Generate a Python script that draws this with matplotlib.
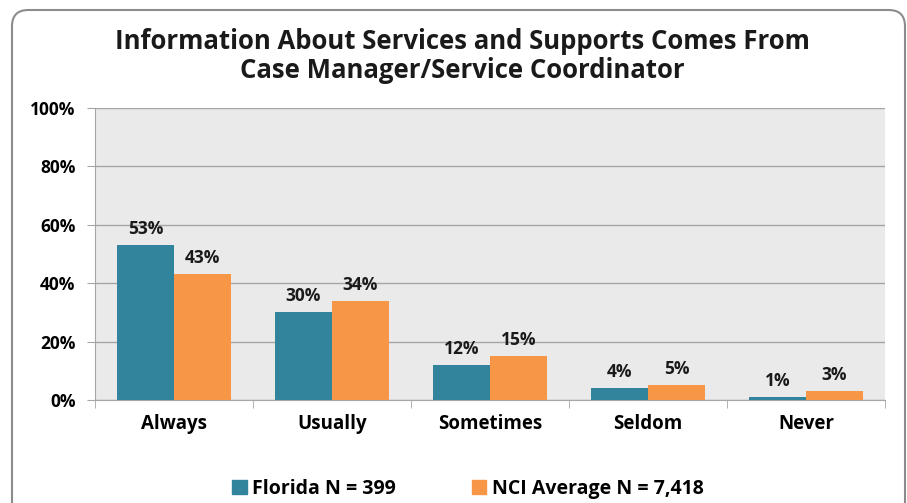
import matplotlib
matplotlib.use("Agg")
import matplotlib.pyplot as plt
from matplotlib.patches import FancyBboxPatch, Rectangle
import numpy as np

categories = ["Always", "Usually", "Sometimes", "Seldom", "Never"]
florida = [53, 30, 12, 4, 1]
nci = [43, 34, 15, 5, 3]
series_names = ["Florida N = 399", "NCI Average N = 7,418"]
yticks = [0, 20, 40, 60, 80, 100]
title = "Information About Services and Supports Comes From\nCase Manager/Service Coordinator"

plt.rcParams['font.family'] = ['Open Sans', 'DejaVu Sans']

W, H = 907, 503
fig = plt.figure(figsize=(W/100, H/100), dpi=100)

# outer rounded frame
frame = FancyBboxPatch((12/W, -20/H), 893/W, (H-10+20)/H,
                       boxstyle="round,pad=0,rounding_size=0.018",
                       transform=fig.transFigure, fill=False,
                       edgecolor="#8C8C8C", linewidth=1.5, mutation_aspect=W/H)
fig.patches.append(frame)

ax = fig.add_axes([95/W, 1-400/H, 790/W, 292/H])
ax.set_facecolor("#EAEAEA")
x = np.arange(len(categories))
w = 0.36
c1, c2 = "#31849B", "#F79646"
b1 = ax.bar(x - w/2, florida, w, color=c1, zorder=3)
b2 = ax.bar(x + w/2, nci, w, color=c2, zorder=3)

for bars, vals in ((b1, florida), (b2, nci)):
    for b, v in zip(bars, vals):
        ax.text(b.get_x() + b.get_width()/2, v + 2.4, f"{v}%", ha="center", va="bottom",
                fontsize=12.5, fontweight="bold", color="#1a1a1a")

ax.set_xlim(-0.5, len(categories) - 0.5)
ax.set_ylim(0, 100)
ax.set_yticks(yticks)
ax.set_yticklabels([f"{t}%" for t in yticks], fontsize=12.5, fontweight="bold")
ax.yaxis.grid(True, color="#A6A6A6", linewidth=1.0, zorder=0)
ax.set_axisbelow(True)
ax.set_xticks(x)
ax.set_xticklabels(categories, fontsize=13.5, fontweight="bold")
ax.set_xticks(np.arange(len(categories) + 1) - 0.5, minor=True)
ax.tick_params(axis="x", which="major", length=0, pad=10)
ax.tick_params(axis="x", which="minor", length=6, color="#A6A6A6")
ax.tick_params(axis="y", length=6, color="#A6A6A6", pad=8)
for s in ["top", "right"]:
    ax.spines[s].set_visible(False)
for s in ["left", "bottom"]:
    ax.spines[s].set_color("#A6A6A6")

fig.text(462/W, 1-56/H, title, ha="center", va="center", fontsize=18.5,
         fontweight="bold", color="#1a1a1a", linespacing=1.12)

leg = fig.legend([Rectangle((0, 0), 1, 1, color=c1), Rectangle((0, 0), 1, 1, color=c2)],
                 series_names, loc="center", bbox_to_anchor=(468/W, 1-489/H),
                 ncol=2, frameon=False, prop={"weight": "bold", "size": 14},
                 handlelength=0.75, handleheight=0.75, columnspacing=3.9, handletextpad=0.3)

fig.savefig("out.png", dpi=100)
